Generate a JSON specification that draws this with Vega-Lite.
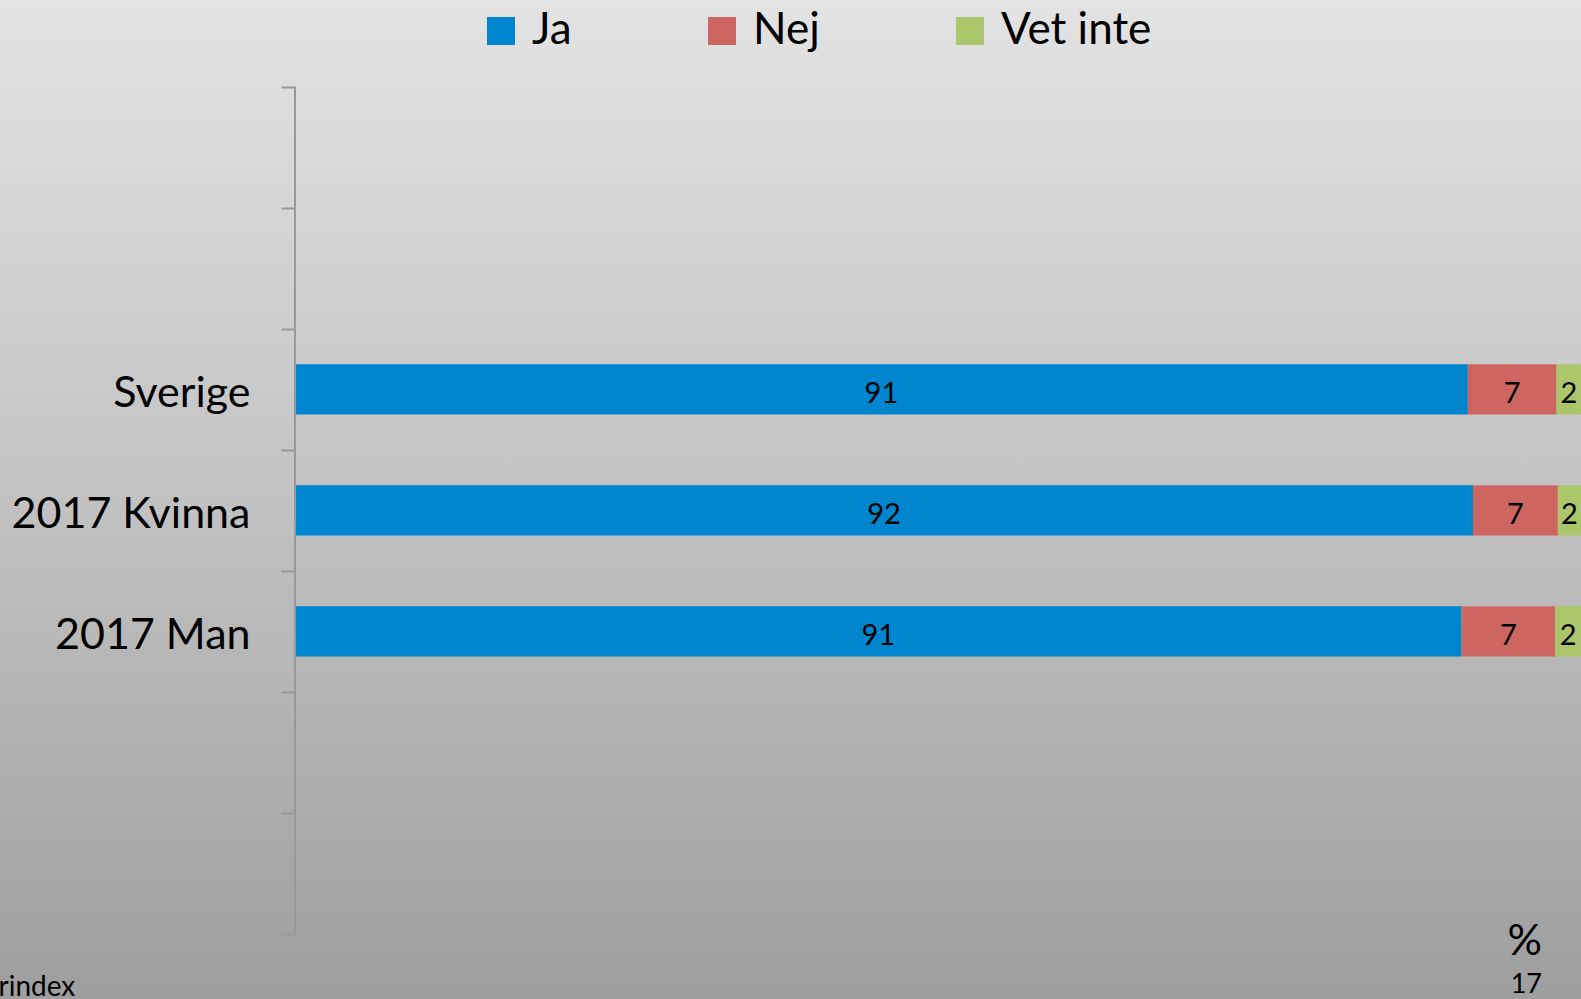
{
  "$schema": "https://vega.github.io/schema/vega-lite/v6.json",
  "width": 1581,
  "height": 999,
  "autosize": {"type": "none"},
  "padding": 0,
  "background": "#c2c2c2",
  "config": {"view": {"stroke": null}, "font": "Lato"},
  "title": {
    "text": "%",
    "subtitle": "17",
    "orient": "bottom",
    "anchor": "end",
    "frame": "group",
    "offset": -80,
    "dx": -39,
    "fontSize": 43,
    "fontWeight": "normal",
    "color": "#000000",
    "font": "Lato",
    "subtitleFont": "Lato",
    "subtitleFontSize": 27,
    "subtitleColor": "#000000",
    "subtitlePadding": 8
  },
  "data": {
    "values": [
      {"cat": "Sverige", "series": "Ja", "value": 91.2},
      {"cat": "Sverige", "series": "Nej", "value": 6.9},
      {"cat": "Sverige", "series": "Vet inte", "value": 1.9},
      {"cat": "2017 Kvinna", "series": "Ja", "value": 91.6},
      {"cat": "2017 Kvinna", "series": "Nej", "value": 6.6},
      {"cat": "2017 Kvinna", "series": "Vet inte", "value": 1.8},
      {"cat": "2017 Man", "series": "Ja", "value": 90.7},
      {"cat": "2017 Man", "series": "Nej", "value": 7.3},
      {"cat": "2017 Man", "series": "Vet inte", "value": 2.0}
    ]
  },
  "transform": [
    {"stack": "value", "groupby": ["cat"], "sort": [{"field": "series"}], "as": ["v0", "v1"]},
    {"calculate": "(datum.v0 + datum.v1) / 2", "as": "mid"}
  ],
  "layer": [
    {
      "mark": {
        "type": "rect",
        "fill": {
          "gradient": "linear",
          "x1": 0, "y1": 0, "x2": 0, "y2": 1,
          "stops": [
            {"offset": 0, "color": "#e3e3e3"},
            {"offset": 0.5, "color": "#c2c2c2"},
            {"offset": 1, "color": "#9e9e9e"}
          ]
        }
      },
      "encoding": {
        "x": {"value": 0},
        "x2": {"value": "width"},
        "y": {"value": 0},
        "y2": {"value": "height"}
      }
    },
    {
      "mark": {"type": "bar", "height": {"band": 0.415}},
      "encoding": {
        "y": {
          "field": "cat",
          "type": "nominal",
          "scale": {
            "domain": [" ", "  ", "Sverige", "2017 Kvinna", "2017 Man", "   ", "    "],
            "paddingInner": 0,
            "paddingOuter": 0.628,
            "align": 0.572
          },
          "axis": {
            "orient": "left",
            "offset": -295,
            "zindex": 1,
            "title": null,
            "grid": false,
            "domain": false,
            "tickColor": "#999999",
            "tickWidth": 2,
            "tickSize": 14,
            "tickBand": "extent",
            "labelFont": "Lato",
            "labelFontSize": 43,
            "labelColor": "#000000",
            "labelPadding": 31,
            "labelOffset": 4,
            "labelLimit": 500
          }
        },
        "x": {
          "field": "v0",
          "type": "quantitative",
          "scale": {"domain": [-22.94, 100], "nice": false, "zero": false},
          "axis": {
            "zindex": 1,
            "title": "rindex",
            "domain": false,
            "ticks": false,
            "labels": false,
            "grid": false,
            "titleX": -2,
            "titleY": -4,
            "titleAlign": "left",
            "titleBaseline": "alphabetic",
            "titleFont": "Lato",
            "titleFontSize": 28,
            "titleFontWeight": "normal",
            "titleColor": "#000000"
          }
        },
        "x2": {"field": "v1"},
        "color": {
          "field": "series",
          "type": "nominal",
          "scale": {"domain": ["Ja", "Nej", "Vet inte"], "range": ["#0085CF", "#CD6660", "#ABC66B"]},
          "legend": {
            "orient": "none",
            "legendX": 479,
            "legendY": 9,
            "direction": "horizontal",
            "title": null,
            "padding": 0,
            "symbolType": "square",
            "symbolSize": 784,
            "symbolStrokeWidth": 0,
            "symbolOpacity": 1,
            "labelFont": "Lato",
            "labelFontSize": 44,
            "labelColor": "#000000",
            "labelOffset": 9,
            "columnPadding": 128
          }
        }
      }
    },
    {
      "mark": {"type": "rule", "color": "#999999", "strokeWidth": 2},
      "encoding": {
        "x": {"datum": 0, "type": "quantitative"},
        "y": {"datum": " ", "type": "nominal", "bandPosition": 0},
        "y2": {"datum": "    ", "bandPosition": 1}
      }
    },
    {
      "mark": {"type": "text", "fontSize": 29, "font": "Lato", "color": "#000000", "align": "center", "baseline": "middle", "dy": 5},
      "encoding": {
        "y": {"field": "cat", "type": "nominal"},
        "x": {"field": "mid", "type": "quantitative"},
        "text": {"field": "value", "type": "quantitative", "format": ".0f"}
      }
    }
  ]
}
